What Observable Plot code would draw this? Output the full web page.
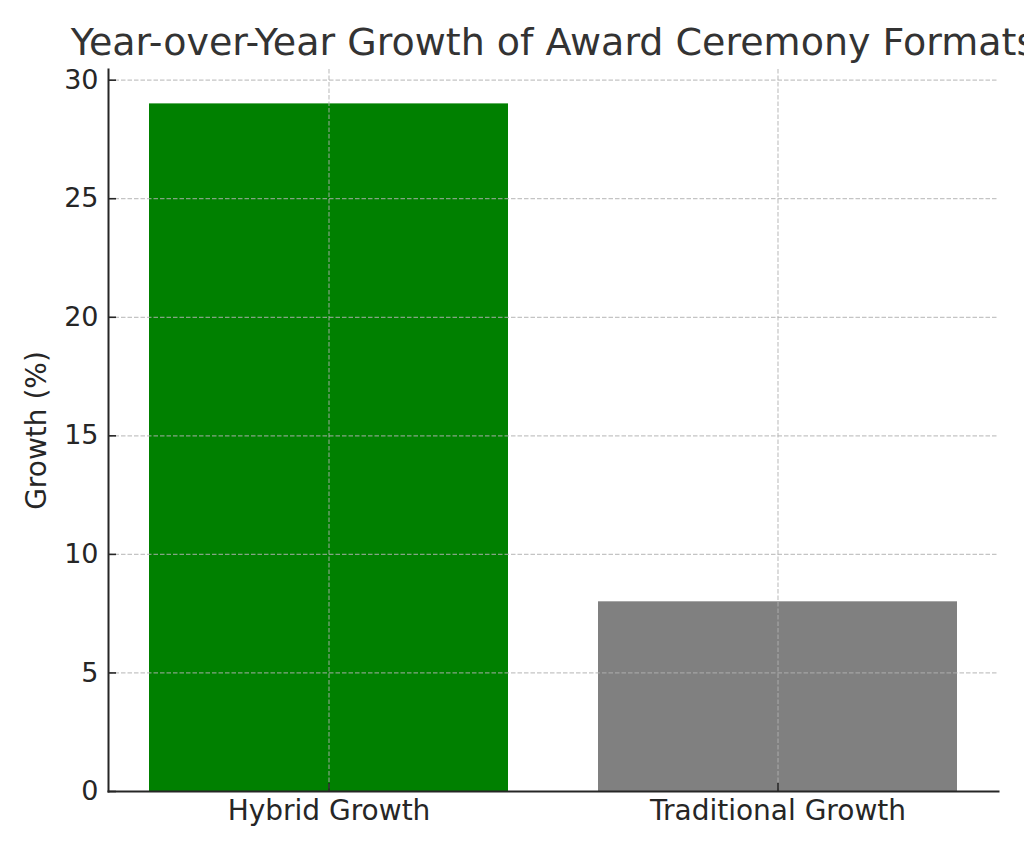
<!DOCTYPE html>
<html>
<head>
<meta charset="utf-8">
<script src="https://cdn.jsdelivr.net/npm/d3@7"></script>
<script src="https://cdn.jsdelivr.net/npm/@observablehq/plot@0.6"></script>
<style>
  html, body { margin: 0; padding: 0; background: #fff; overflow: hidden; }
  #chart svg { overflow: visible; display: block; }
  #chart svg, #chart svg text { font-family: "DejaVu Sans", sans-serif !important; }
</style>
</head>
<body>
<div id="chart"></div>
<script>
const categories = ["Hybrid Growth", "Traditional Growth"];
const growth = [29, 8];
const barColors = ["#008000", "#808080"];
const yTicks = [0, 5, 10, 15, 20, 25, 30];
const titleText = "Year-over-Year Growth of Award Ceremony Formats";
const yLabel = "Growth (%)";

const data = categories.map((c, i) => ({category: c, value: growth[i], color: barColors[i]}));

const W = 1024, H = 853;
const mL = 108, mR = 26, mT = 69, mB = 62;
const frameW = W - mL - mR, frameH = H - mT - mB;
const font = "'DejaVu Sans', sans-serif";
const gridStyle = {stroke: "#b0b0b0", strokeOpacity: 0.75, strokeWidth: 1.2, strokeDasharray: "4.5,2"};

const chart = Plot.plot({
  width: W,
  height: H,
  marginLeft: mL,
  marginRight: mR,
  marginTop: mT,
  marginBottom: mB,
  style: {fontFamily: font, background: "#fff", overflow: "visible"},
  x: {domain: categories, paddingInner: 0.2, paddingOuter: 0.0889, label: null},
  y: {domain: [0, 30.45], label: null},
  marks: [
    Plot.barY(data, {x: "category", y: "value", fill: "color"}),
    Plot.gridY(yTicks, gridStyle),
    Plot.gridX(categories, gridStyle),
    Plot.tickY(yTicks, {y: d => d, stroke: "#262626", strokeWidth: 1.6, insetRight: frameW - 8}),
    Plot.tickX(categories, {x: d => d, stroke: "#262626", strokeWidth: 1.6, insetTop: frameH - 8}),
    Plot.frame({anchor: "left", stroke: "#262626", strokeWidth: 2}),
    Plot.frame({anchor: "bottom", stroke: "#262626", strokeWidth: 2}),
    Plot.axisY(yTicks, {tickSize: 0, tickPadding: 10, fontSize: 27, fontFamily: font, fill: "#262626", label: null}),
    Plot.axisX(categories, {tickSize: 0, tickPadding: 9, fontSize: 28, fontFamily: font, fill: "#262626", label: null}),
    Plot.text([yLabel], {frameAnchor: "left", rotate: -90, dx: -71, fontSize: 28, fontFamily: font, fill: "#262626", textAnchor: "middle"}),
    Plot.text([titleText], {frameAnchor: "top", lineAnchor: "bottom", dy: -15, fontSize: 38, fontFamily: font, fill: "#333333", textAnchor: "middle"})
  ]
});
document.getElementById("chart").appendChild(chart);
</script>
</body>
</html>
